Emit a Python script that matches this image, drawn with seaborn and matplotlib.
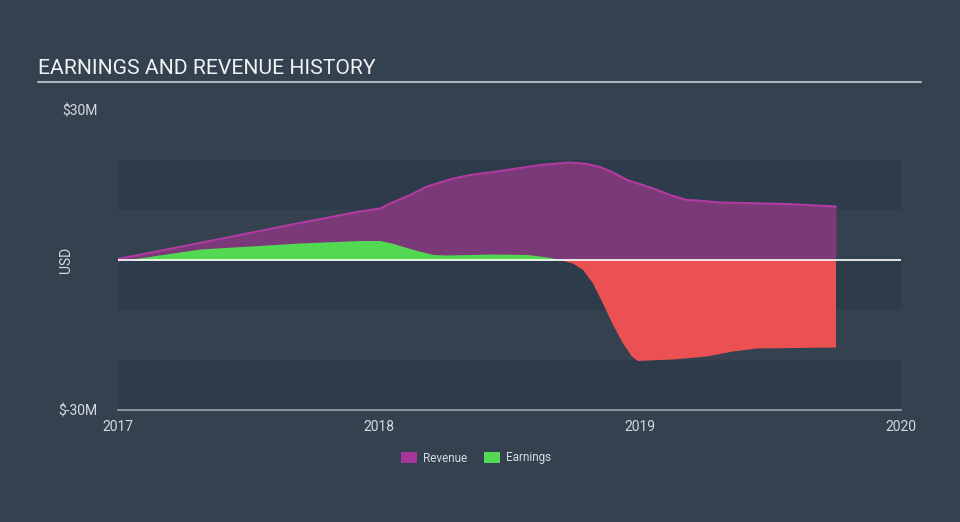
import numpy as np
import pandas as pd
import matplotlib
matplotlib.use("Agg")
import matplotlib.pyplot as plt
from matplotlib.patches import Patch
import seaborn as sns

# ---- data (values in $M) ----
rev_dates = [2017.000, 2017.314, 2017.697, 2017.927, 2018.004, 2018.042, 2018.119,
             2018.184, 2018.222, 2018.284, 2018.349, 2018.464, 2018.617, 2018.732,
             2018.797, 2018.847, 2018.897, 2018.950, 2019.011, 2019.077, 2019.115,
             2019.180, 2019.218, 2019.307, 2019.563, 2019.751]
rev_values = [0.2, 3.4, 7.4, 9.7, 10.3, 11.3, 13.0,
              14.7, 15.3, 16.3, 17.0, 17.8, 19.0, 19.5,
              19.2, 18.6, 17.5, 16.0, 15.0, 13.8, 13.0,
              12.0, 11.9, 11.5, 11.2, 10.7]

earn_dates = [2017.000, 2017.027, 2017.314, 2017.697, 2017.927, 2018.004, 2018.054,
              2018.092, 2018.146, 2018.207, 2018.261, 2018.437, 2018.567, 2018.617,
              2018.655, 2018.693, 2018.743, 2018.782, 2018.820, 2018.858, 2018.897,
              2018.935, 2018.969, 2018.992, 2019.126, 2019.257, 2019.356, 2019.448,
              2019.751]
earn_values = [-0.3, 0.0, 2.2, 3.4, 3.9, 3.9, 3.3,
               2.7, 1.9, 1.1, 1.0, 1.2, 1.1, 0.8,
               0.5, 0.0, -0.7, -2.0, -4.7, -8.7, -13.0,
               -16.7, -19.3, -20.2, -19.9, -19.3, -18.3, -17.7,
               -17.5]

x_ticks = [2017, 2018, 2019, 2020]
x_tick_labels = ["2017", "2018", "2019", "2020"]
y_ticks = [-30, 30]
y_tick_labels = ["$-30M", "$30M"]

rev_df = pd.DataFrame({"date": rev_dates, "value": rev_values})
earn_df = pd.DataFrame({"date": earn_dates, "value": earn_values})

# ---- style ----
BG = "#344250"
BAND = "#2e3b4a"
TXT = "#d6dadf"
REV_FILL = "#7b3a77"
REV_LINE = "#b23aa2"
REV_LEG = "#a8359a"
GREEN = "#53d853"
RED = "#eb5052"

sns.set_theme(style="dark")
plt.rcParams["font.family"] = ["Roboto", "DejaVu Sans"]

fig = plt.figure(figsize=(9.6, 5.22), dpi=100)
fig.patch.set_facecolor(BG)
ax = fig.add_axes([118 / 960, 112 / 522, (901 - 118) / 960, 300 / 522])
ax.set_facecolor(BG)

# bands
for lo, hi in [(10, 20), (-10, 0), (-30, -20)]:
    ax.axhspan(lo, hi, color=BAND, zorder=0, lw=0)

# revenue
ax.fill_between(rev_df["date"], 0, rev_df["value"], color=REV_FILL, lw=0, zorder=2)
sns.lineplot(data=rev_df, x="date", y="value", ax=ax, color=REV_LINE, lw=1.5, zorder=3)

# earnings
e = earn_df["value"].to_numpy()
d = earn_df["date"].to_numpy()
ax.fill_between(d, 0, e, where=e >= 0, interpolate=True, color=GREEN, lw=0, zorder=4)
ax.fill_between(d, 0, e, where=e <= 0, interpolate=True, color=RED, lw=0, zorder=4)

# zero line
ax.axhline(0, color="white", lw=1.2, zorder=5)

ax.set_xlim(2017, 2020)
ax.set_ylim(-30, 30)
ax.set_xticks(x_ticks)
ax.set_xticklabels(x_tick_labels, color=TXT, fontsize=10)
ax.set_yticks(y_ticks)
ax.set_yticklabels(y_tick_labels, color=TXT, fontsize=10)
ax.tick_params(axis="x", direction="out", length=7, width=1, color="#9aa3ad", pad=0)
ax.tick_params(axis="y", length=0, pad=15)
ax.set_xlabel("")
ax.set_ylabel("USD", color=TXT, fontsize=10)
ax.yaxis.set_label_coords(-0.0575, 0.5)
ax.grid(False)
for s in ["top", "right", "left"]:
    ax.spines[s].set_visible(False)
ax.spines["bottom"].set_color("#9aa3ad")
ax.spines["bottom"].set_linewidth(1.2)

# title and underline
fig.text(38 / 960, 1 - 68 / 522, "EARNINGS AND REVENUE HISTORY", color="#f0f2f4",
         fontsize=15.2, va="center", ha="left")
fig.add_artist(plt.Line2D([38 / 960, 921 / 960], [1 - 81.5 / 522, 1 - 81.5 / 522],
                          color="#aeb4ba", lw=1.5))

# legend
handles = [Patch(facecolor=REV_LEG, edgecolor="none", label="Revenue"),
           Patch(facecolor=GREEN, edgecolor="none", label="Earnings")]
leg = fig.legend(handles=handles, loc="center", bbox_to_anchor=(476 / 960, 1 - 458 / 522),
                 ncol=2, frameon=False, fontsize=8.5, handlelength=1.3, handleheight=1.1,
                 columnspacing=1.5, handletextpad=0.5)
for t in leg.get_texts():
    t.set_color(TXT)

fig.savefig("out.png", dpi=100, facecolor=BG)
